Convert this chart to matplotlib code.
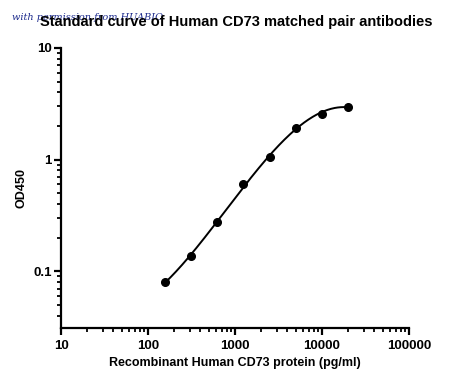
import numpy as np
import matplotlib
matplotlib.use("Agg")
import matplotlib.pyplot as plt
from matplotlib.ticker import LogLocator, NullFormatter, FixedLocator, FixedFormatter

conc = [156.25, 312.5, 625, 1250, 2500, 5000, 10000, 20000]
od = [0.080, 0.137, 0.275, 0.60, 1.06, 1.92, 2.57, 2.99]
xticks = [10, 100, 1000, 10000, 100000]
xticklabels = ["10", "100", "1000", "10000", "100000"]
yticks = [0.1, 1, 10]
yticklabels = ["0.1", "1", "10"]

plt.rcParams['font.family'] = ['Liberation Sans', 'DejaVu Sans']

fig = plt.figure(figsize=(4.5, 3.86), dpi=100)
ax = fig.add_axes([61/450, 1-328/386, (409-61)/450, (328-48)/386])

# smooth fit curve in log-log space
lx = np.log10(conc)
ly = np.log10(od)
coef = np.polyfit(lx, ly, 3)
xs = np.linspace(lx[0], lx[-1], 300)
ax.plot(10**xs, 10**np.polyval(coef, xs), color='black', lw=1.4, zorder=2)
ax.plot(conc, od, 'o', color='black', ms=5.5, zorder=3)

ax.set_xscale('log')
ax.set_yscale('log')
ax.set_xlim(10, 100000)
ax.set_ylim(0.031, 10)

ax.xaxis.set_major_locator(FixedLocator(xticks))
ax.xaxis.set_major_formatter(FixedFormatter(xticklabels))
ax.xaxis.set_minor_locator(LogLocator(base=10, subs=np.arange(2, 10)))
ax.xaxis.set_minor_formatter(NullFormatter())
ax.yaxis.set_major_locator(FixedLocator(yticks))
ax.yaxis.set_major_formatter(FixedFormatter(yticklabels))
ax.yaxis.set_minor_locator(LogLocator(base=10, subs=np.arange(2, 10)))
ax.yaxis.set_minor_formatter(NullFormatter())

for s in ['top', 'right']:
    ax.spines[s].set_visible(False)
for s in ['left', 'bottom']:
    ax.spines[s].set_linewidth(1.6)
ax.tick_params(which='major', length=5, width=1.6, labelsize=9.5)
ax.tick_params(axis='y', which='major', pad=1.5)
ax.tick_params(which='minor', length=3, width=1.3)
for lab in ax.get_xticklabels() + ax.get_yticklabels():
    lab.set_fontweight('bold')

ax.set_xlabel("Recombinant Human CD73 protein (pg/ml)", fontsize=9, fontweight='bold', labelpad=4)
ax.set_ylabel("OD450", fontsize=9, fontweight='bold', labelpad=4)

fig.text(236/450, 1-22/386, "Standard curve of Human CD73 matched pair antibodies",
         ha='center', va='center', fontsize=10.5, fontweight='bold', zorder=5)
fig.text(12/450, 1-17/386, "with permission from HUABIO", ha='left', va='center',
         fontsize=7, style='italic', family=['DejaVu Serif'], color='#1c2a8c', zorder=4)

fig.savefig("out.png", dpi=100)
